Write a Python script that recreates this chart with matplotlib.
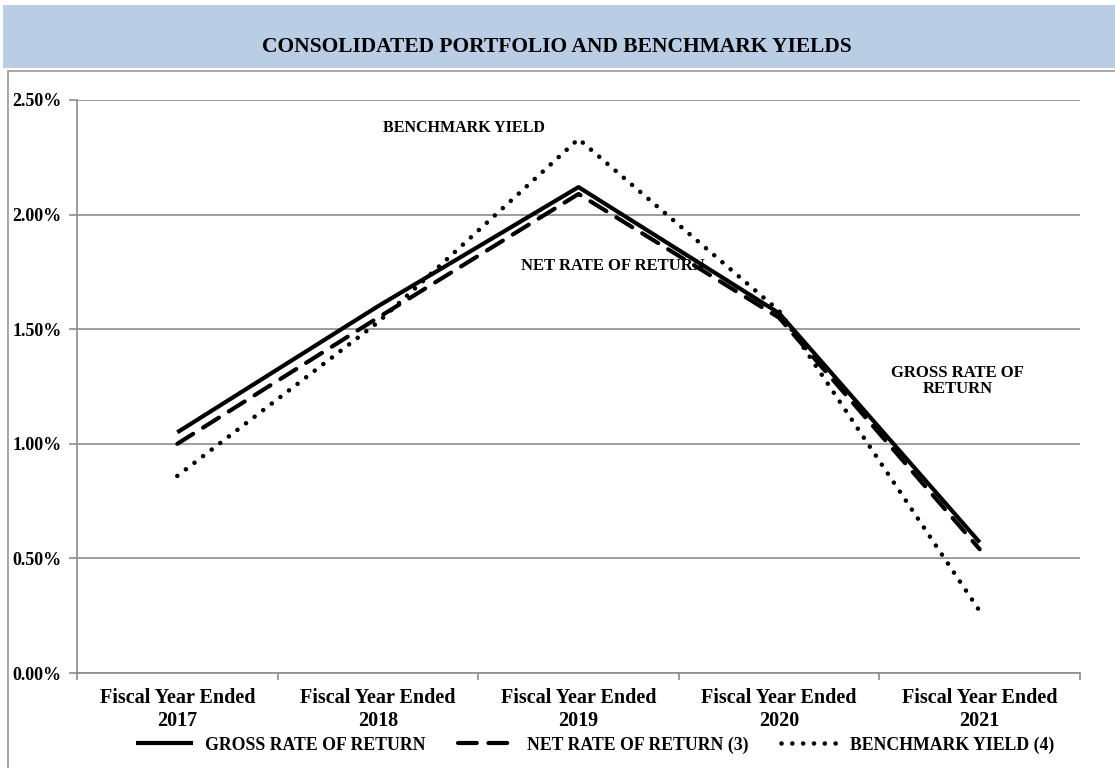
#!/usr/bin/env python3
"""Consolidated portfolio and benchmark yields, fiscal years 2017-2021."""
import matplotlib

matplotlib.use("Agg")
import matplotlib.pyplot as plt  # noqa: E402
from matplotlib.patches import Rectangle  # noqa: E402
from matplotlib.ticker import FuncFormatter  # noqa: E402

years = ["2017", "2018", "2019", "2020", "2021"]
gross = [1.05, 1.60, 2.12, 1.57, 0.57]
net = [1.00, 1.55, 2.09, 1.55, 0.54]
bench = [0.86, 1.53, 2.33, 1.58, 0.27]
yticks = [0.0, 0.5, 1.0, 1.5, 2.0, 2.5]

W, H = 1115, 768
plt.rcParams["font.family"] = ["Liberation Serif", "DejaVu Serif"]
plt.rcParams["font.weight"] = "bold"

fig = plt.figure(figsize=(W / 100, H / 100), dpi=100)

# banner and outer frame
fig.patches.append(Rectangle((3 / W, 1 - 68 / H), 1, 63 / H, transform=fig.transFigure,
                             facecolor="#b9cde5", edgecolor="none", zorder=0))
fig.patches.append(Rectangle((8 / W, -0.05), 1.2, 1 - 71 / H + 0.05, transform=fig.transFigure,
                             facecolor="none", edgecolor="#9a9a9a", lw=1.2, zorder=0))
fig.text(557 / W, 1 - 47 / H, "CONSOLIDATED PORTFOLIO AND BENCHMARK YIELDS",
         ha="center", va="center", fontsize=15.5, fontweight="bold")

ax = fig.add_axes([77 / W, 1 - 673 / H, (1080 - 77) / W, (673 - 100) / H])
x = list(range(len(years)))
ax.plot(x, gross, color="black", lw=3.0, solid_capstyle="butt",
        label="GROSS RATE OF RETURN")
ax.plot(x, net, color="black", lw=3.0, linestyle=(0, (4.5, 2.8)), dash_capstyle="round",
        label="NET RATE OF RETURN (3)")
ax.plot(x, bench, color="black", lw=3.3, linestyle=(0, (0.01, 2.35)), dash_capstyle="round",
        label="BENCHMARK YIELD (4)")

ax.set_xlim(-0.5, len(years) - 0.5)
ax.set_ylim(0, 2.5)
ax.set_yticks(yticks)
ax.yaxis.set_major_formatter(FuncFormatter(lambda v, _: f"{v:.2f}%"))
ax.yaxis.grid(True, color="#8c8c8c", lw=1.2)
ax.set_axisbelow(True)
ax.set_xticks(x)
ax.set_xticklabels([f"Fiscal Year Ended\n{y}" for y in years])
ax.set_xticks([i - 0.5 for i in range(len(years) + 1)], minor=True)
ax.tick_params(axis="x", which="major", length=0, pad=11, labelsize=14.5)
ax.tick_params(axis="x", which="minor", length=5, color="#8c8c8c", width=1.2)
ax.tick_params(axis="y", length=6, color="#8c8c8c", width=1.2, pad=5, labelsize=13)
for s in ("top", "right"):
    ax.spines[s].set_visible(False)
for s in ("left", "bottom"):
    ax.spines[s].set_color("#8c8c8c")
    ax.spines[s].set_linewidth(1.2)

ax.text(1.43, 2.38, "BENCHMARK YIELD", ha="center", va="center", fontsize=11.5)
ax.text(2.17, 1.775, "NET RATE OF RETURN", ha="center", va="center", fontsize=12)
ax.text(3.89, 1.275, "GROSS RATE OF\nRETURN", ha="center", va="center", fontsize=12,
        linespacing=1.0)

fig.legend(loc="center", bbox_to_anchor=(595 / W, 1 - 745 / H), ncol=3, frameon=False,
           fontsize=12.8, handlelength=3.2, handletextpad=0.7, columnspacing=1.8)

fig.savefig("out.png", dpi=100)
